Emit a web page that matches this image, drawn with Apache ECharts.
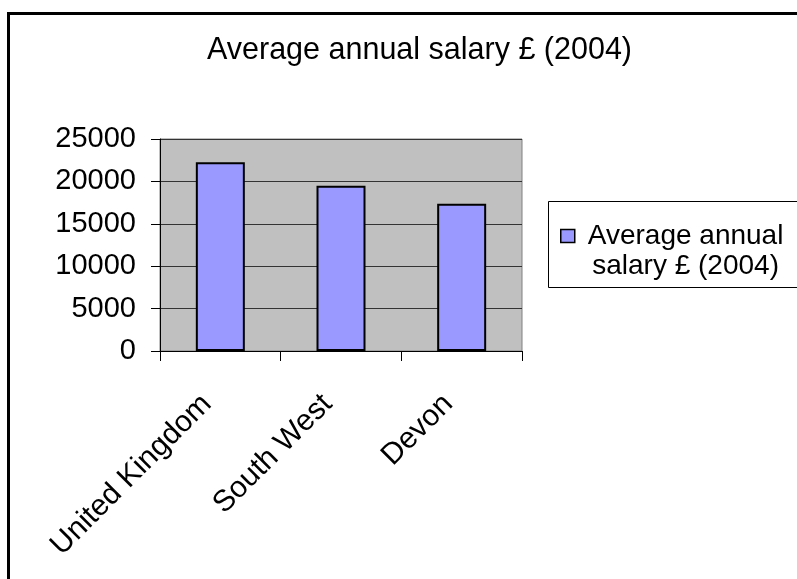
<!DOCTYPE html>
<html>
<head>
<meta charset="utf-8">
<style>
    html, body { margin: 0; padding: 0; background: #fff; }
    #salary_bar { width: 797px; height: 579px; }
</style>
</head>
<body>
<div id="salary_bar"></div>
<script src="https://cdn.jsdelivr.net/npm/echarts@6/dist/echarts.min.js"></script>
<script type="text/javascript">
    var regions = ['United Kingdom', 'South West', 'Devon'];
    var salaries = [22250, 19500, 17350];
    var seriesName = 'Average annual salary £ (2004)';
    var yTicks = { min: 0, max: 25000, interval: 5000 };

    var font = '"Liberation Sans", Arial, sans-serif';

    var chart = echarts.init(document.getElementById('salary_bar'));
    chart.setOption({
        backgroundColor: '#fff',
        animation: false,
        title: {
            text: seriesName,
            left: 207,
            top: 35,
            padding: 0,
            textStyle: { fontFamily: font, fontSize: 30.5, fontWeight: 'normal', color: '#000' }
        },
        legend: {
            left: 560,
            top: 222,
            padding: 0,
            itemWidth: 14,
            itemHeight: 13,
            icon: 'rect',
            itemStyle: { color: '#9999ff', borderColor: '#000', borderWidth: 1.5 },
            formatter: function (name) {
                return '{a|' + name.replace('annual ', 'annual}\n{a|') + '}';
            },
            textStyle: {
                fontFamily: font,
                fontSize: 28,
                color: '#000',
                padding: [30, 0, 0, 8],
                rich: { a: { align: 'center', fontFamily: font, fontSize: 28, lineHeight: 30, color: '#000' } }
            }
        },
        grid: {
            left: 160,
            right: 275,
            top: 139,
            bottom: 228,
            show: true,
            backgroundColor: '#c0c0c0',
            borderColor: '#808080',
            borderWidth: 1
        },
        xAxis: {
            type: 'category',
            data: regions,
            axisLine: { lineStyle: { color: '#000', width: 1 } },
            axisTick: { show: true, interval: 0, length: 10, lineStyle: { color: '#000' } },
            axisLabel: {
                interval: 0,
                rotate: 45,
                margin: 35,
                // trailing spacer nudges the rotated text back along its baseline
                formatter: function (v) { return '{a|' + v + '}{s|}'; },
                rich: {
                    a: { fontFamily: font, fontSize: 30, color: '#000' },
                    s: { width: 19 }
                },
                fontFamily: font,
                fontSize: 30,
                color: '#000'
            }
        },
        yAxis: {
            type: 'value',
            min: yTicks.min,
            max: yTicks.max,
            interval: yTicks.interval,
            axisLine: { show: true, lineStyle: { color: '#000', width: 1 } },
            axisTick: { show: true, length: 9, lineStyle: { color: '#000' } },
            axisLabel: {
                margin: 24,
                formatter: function (v) { return String(v); },
                fontFamily: font,
                fontSize: 29,
                color: '#000'
            },
            splitLine: { show: true, lineStyle: { color: '#333', width: 1 } }
        },
        series: [
            {
                name: seriesName,
                type: 'bar',
                data: salaries,
                barWidth: 49,
                itemStyle: { color: '#9999ff', borderColor: '#000', borderWidth: 2 }
            }
        ],
        graphic: [
            {
                // outer chart frame, right and bottom edges are cropped off
                type: 'rect',
                silent: true,
                shape: { x: 8.5, y: 13.5, width: 1000, height: 1000 },
                style: { fill: null, stroke: '#000', lineWidth: 3 }
            },
            {
                // legend frame
                type: 'rect',
                silent: true,
                shape: { x: 548.5, y: 201.5, width: 400, height: 86 },
                style: { fill: null, stroke: '#000', lineWidth: 1 }
            }
        ]
    });
</script>
</body>
</html>
